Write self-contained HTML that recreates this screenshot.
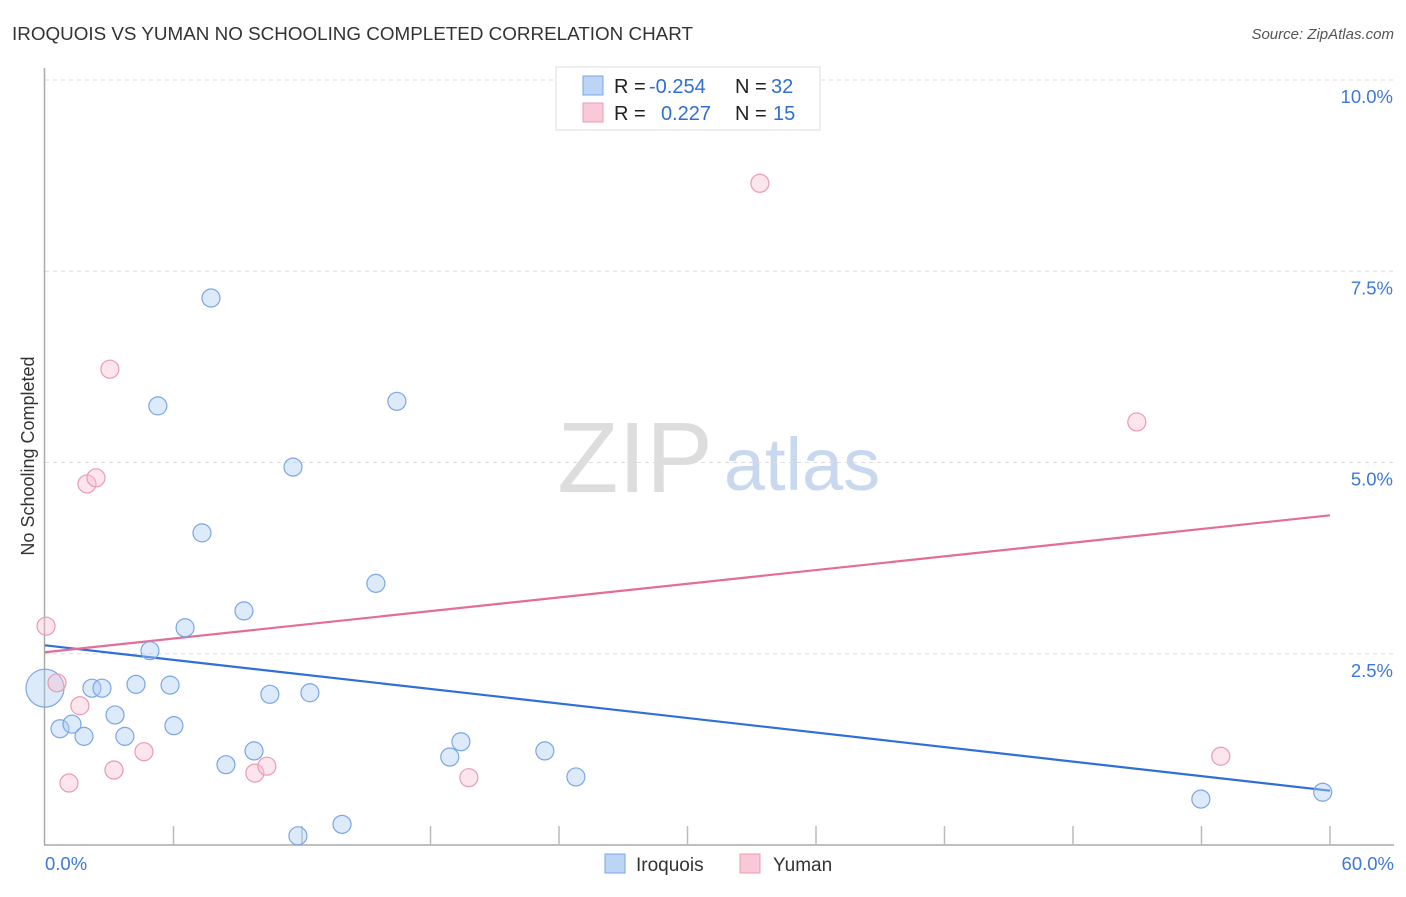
<!DOCTYPE html>
<html><head><meta charset="utf-8"><style>
body{margin:0;background:#fff;font-family:"Liberation Sans",sans-serif}
svg text{font-family:"Liberation Sans",sans-serif}
</style></head><body>
<svg id="chart" width="1406" height="892" viewBox="0 0 1406 892" xmlns="http://www.w3.org/2000/svg">
<text x="12" y="40" font-size="18" fill="#333" textLength="681" lengthAdjust="spacingAndGlyphs">IROQUOIS VS YUMAN NO SCHOOLING COMPLETED CORRELATION CHART</text>
<text x="1394" y="39" font-size="15" fill="#555" text-anchor="end" font-style="italic">Source: ZipAtlas.com</text>
<g>
<text x="635" y="492" font-size="100" fill="#ddd" font-family="Liberation Serif" text-anchor="middle">ZIP</text>
<text x="802" y="490" font-size="74" fill="#c8d9ef" text-anchor="middle">atlas</text>
</g>
<g id="grid"></g>
<g id="axes"></g>
<g id="lines"></g>
<g id="points"></g>
<text transform="translate(34,456) rotate(-90)" font-size="18" fill="#333" text-anchor="middle">No Schooling Completed</text>
<g>
<rect x="556" y="67" width="264" height="63" fill="#fff" stroke="#ddd"/>
<rect x="583" y="76" width="20" height="19" fill="#bcd4f5" stroke="#7aa6e6"/>
<rect x="583" y="103" width="20" height="19" fill="#f9c9d8" stroke="#eb9ab4"/>
<text x="614" y="93" font-size="20" fill="#222">R =</text>
<text x="649" y="93" font-size="20" fill="#2f6fd0">-0.254</text>
<text x="735" y="93" font-size="20" fill="#222">N =</text>
<text x="771" y="93" font-size="20" fill="#2f6fd0">32</text>
<text x="614" y="120" font-size="20" fill="#222">R =</text>
<text x="661" y="120" font-size="20" fill="#2f6fd0">0.227</text>
<text x="735" y="120" font-size="20" fill="#222">N =</text>
<text x="773" y="120" font-size="20" fill="#2f6fd0">15</text>
</g>
<g>
<rect x="605" y="854" width="20" height="19" fill="#bcd4f5" stroke="#7aa6e6"/>
<text x="636" y="871" font-size="19" fill="#333">Iroquois</text>
<rect x="740" y="854" width="20" height="19" fill="#f9c9d8" stroke="#eb9ab4"/>
<text x="773" y="871" font-size="19" fill="#333">Yuman</text>
</g>
</svg>
<script>
const yTicks=[2.5,5.0,7.5,10.0];
const xTickVals=[0,6,12,18,24,30,36,42,48,54,60];
const iroX=[0,0.7,1.26,1.82,2.19,2.66,3.27,3.73,4.25,4.9,5.27,5.84,6.02,6.54,7.33,7.75,8.45,9.29,9.76,10.5,11.58,11.81,12.37,13.87,15.45,16.43,18.9,19.42,23.34,24.79,53.97,59.66];
const iroY=[2.05,1.52,1.58,1.42,2.05,2.05,1.70,1.42,2.10,2.54,5.74,2.09,1.56,2.84,4.08,7.15,1.05,3.06,1.23,1.97,4.94,0.12,1.99,0.27,3.42,5.80,1.15,1.35,1.23,0.89,0.60,0.69];
const yumX=[0.05,0.56,1.12,1.63,1.96,2.38,3.03,3.22,4.62,9.8,10.36,19.79,33.38,50.98,54.9];
const yumY=[2.86,2.12,0.81,1.82,4.72,4.80,6.22,0.98,1.22,0.94,1.03,0.88,8.65,5.53,1.16];
const iroTrend=[2.61,0.71];
const yumTrend=[2.52,4.31];
const NS="http://www.w3.org/2000/svg";
const X=v=>45+v*(1285/60);
const Y=v=>845-v*76.5;
function mk(tag,attrs,parent){const e=document.createElementNS(NS,tag);for(const k in attrs)e.setAttribute(k,attrs[k]);document.getElementById(parent).appendChild(e);return e;}
yTicks.forEach(t=>{
 const g=mk('line',{x1:45,x2:1394,y1:Y(t),y2:Y(t),stroke:'#ddd','stroke-dasharray':'4,4'},'grid');
 
 
 const l=mk('text',{x:1393,y:Y(t)+23,'font-size':18.5,fill:'#3d78d8','text-anchor':'end'},'grid');
 l.textContent=t.toFixed(1)+'%';
 
 
});
const ax=mk('line',{x1:44.5,x2:44.5,y1:68,y2:845,stroke:'#aaa','stroke-width':1.5},'axes');


const bx=mk('line',{x1:44,x2:1394,y1:845,y2:845,stroke:'#aaa','stroke-width':1.5},'axes');


xTickVals.forEach((t,i)=>{if(i===0)return;
 const k=mk('line',{x1:X(t),x2:X(t),y1:826,y2:845,stroke:'#bbb','stroke-width':1.5},'axes');
 
 
});
[[0,'start',45],[60,'end',1394]].forEach(([v,a,px])=>{
 const t=mk('text',{x:px,y:870,'font-size':18.5,fill:'#3d78d8','text-anchor':a},'axes');
 t.textContent=v.toFixed(1)+'%';
 
 
});
const tb=mk('line',{x1:X(0),x2:X(60),y1:Y(iroTrend[0]),y2:Y(iroTrend[1]),stroke:'#2f6fd6','stroke-width':2.2},'lines');


const tp=mk('line',{x1:X(0),x2:X(60),y1:Y(yumTrend[0]),y2:Y(yumTrend[1]),stroke:'#e46c96','stroke-width':2.2},'lines');


iroX.forEach((x,i)=>{
 const c=mk('circle',{cx:X(x),cy:Y(iroY[i]),r:i===0?19:9,fill:'rgba(170,202,242,0.4)',stroke:'#7aa6e6','stroke-width':1.2},'points');
 
 
});
yumX.forEach((x,i)=>{
 const c=mk('circle',{cx:X(x),cy:Y(yumY[i]),r:9,fill:'rgba(248,190,208,0.4)',stroke:'#eb9ab4','stroke-width':1.2},'points');
 
 
});
</script>
</body></html>
